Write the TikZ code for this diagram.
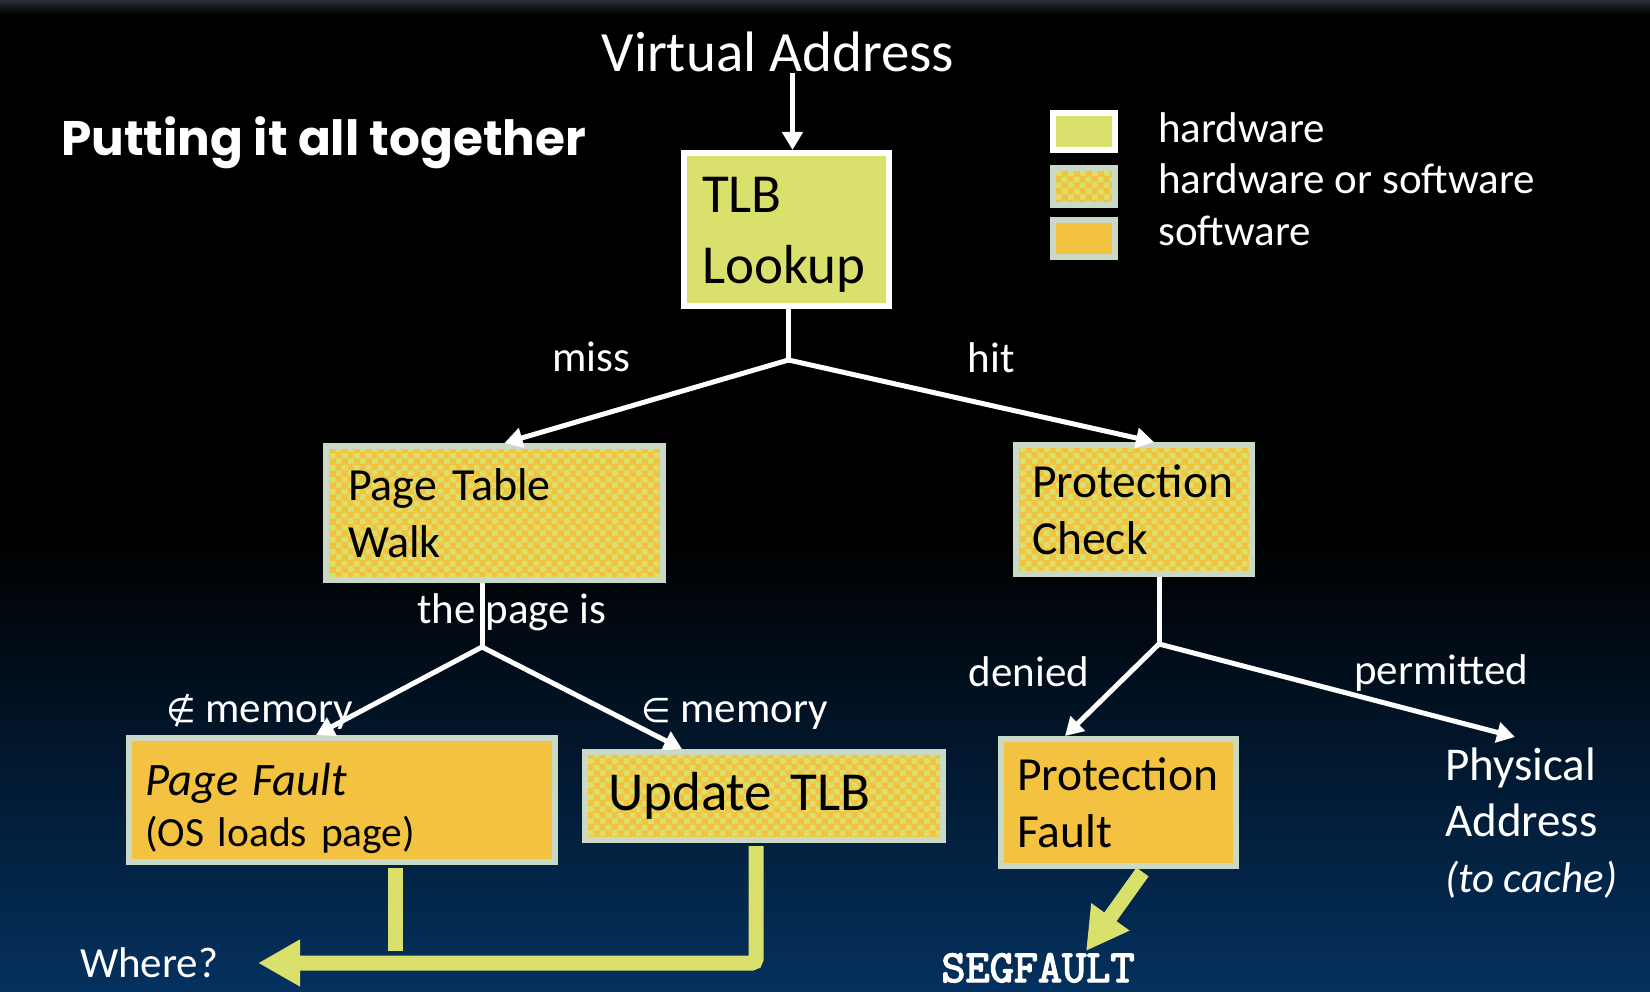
\documentclass[tikz,border=0pt]{standalone}
\usepackage{fontspec}
\setmainfont{Carlito}
\newfontfamily\titlefont{Poppins}
\newfontfamily\symfont{DejaVu Sans}
\newfontfamily\segfont{lmmono10-regular.otf}[FakeBold=3]
\usepackage{tikz}
\usetikzlibrary{positioning,arrows.meta,calc,patterns.meta}
\definecolor{vmyellow}{HTML}{D9E06B}
\definecolor{vmgold}{HTML}{F3C240}
\definecolor{vmsage}{HTML}{C9D9C5}
\definecolor{vmnavy}{HTML}{04315F}
\definecolor{vmedge}{HTML}{2A2F38}

% checker of the two fills: hardware or software
\tikzdeclarepattern{
  name=vmmix,
  type=colored,
  bottom left={(0pt,0pt)},
  top right={(12pt,12pt)},
  tile size={(12pt,12pt)},
  code={
    \fill[vmgold] (0pt,0pt) rectangle (12pt,12pt);
    \fill[vmyellow] (0pt,0pt) rectangle (6pt,6pt);
    \fill[vmyellow] (6pt,6pt) rectangle (12pt,12pt);
  }
}

\begin{document}
\begin{tikzpicture}[x=1pt,y=1pt,
    hwbox/.style={draw=white,line width=6pt,fill=vmyellow,align=left,text=black,inner ysep=0pt},
    mixbox/.style={draw=vmsage,line width=6pt,preaction={fill=vmgold},pattern=vmmix,align=left,text=black,inner ysep=0pt},
    swbox/.style={draw=vmsage,line width=6pt,fill=vmgold,align=left,text=black,inner ysep=0pt},
    keybox/.style={line width=6pt,minimum width=62pt,minimum height=37pt,inner sep=0pt},
    wline/.style={white,line width=5pt},
    warrow/.style={wline,-{Triangle[length=18pt,width=20pt]}},
    yline/.style={vmyellow,line width=15pt},
    yarrow/.style={yline,-{Triangle[length=42pt,width=44pt]}},
    lbl/.style={text=white,inner sep=0pt,font=\fontsize{43}{52}\selectfont}]
  \useasboundingbox (0,0) rectangle (1650,-992);
  % background
  \fill[black] (0,0) rectangle (1650,-992);
  \shade[top color=black,bottom color=vmnavy] (0,-540) rectangle (1650,-992);
  \shade[top color=vmedge,bottom color=black] (0,0) rectangle (1650,-14);

  \node[anchor=base west,text=white,inner sep=0pt,font=\titlefont\bfseries\fontsize{48.5}{58}\selectfont]
    (title) at (61,-156) {Putting it all together};
  \node[anchor=base,text=white,inner sep=0pt,font=\fontsize{57}{66}\selectfont]
    (va) at (778,-72) {Virtual Address};

  % boxes
  \node[hwbox,minimum width=205pt,minimum height=153pt,text width=169pt,inner xsep=18pt,
    font=\fontsize{55}{71}\selectfont] (tlb) at (786.5,-229.5) {\rule{0pt}{46pt}TLB\\Lookup};
  \node[mixbox,minimum width=337pt,minimum height=134pt,text width=293pt,inner xsep=22pt,
    font=\fontsize{46}{57}\selectfont] (ptw) at (494.5,-513) {Page Table\\Walk};
  \node[mixbox,minimum width=236pt,minimum height=129pt,text width=204pt,inner xsep=16pt,
    font=\fontsize{47.5}{57}\selectfont] (pchk) at (1134,-509.5) {Protection\\Check};
  \node[swbox,minimum width=426pt,minimum height=124pt,text width=394pt,inner xsep=16pt,
    font=\fontsize{41.5}{51}\selectfont] (pfault) at (342,-800)
    {\rule{0pt}{49pt}{\itshape\fontsize{46.5}{51}\selectfont Page Fault}\\(OS loads page)};
  \node[mixbox,minimum width=358pt,minimum height=88pt,text width=312pt,inner xsep=23pt,
    font=\fontsize{55}{66}\selectfont] (upd) at (764,-796) {Update TLB};
  \node[swbox,minimum width=235pt,minimum height=127pt,text width=203pt,inner xsep=16pt,
    font=\fontsize{47.5}{57}\selectfont] (pfail) at (1118.5,-802.5) {Protection\\Fault};

  % key
  \node[keybox,draw=white,fill=vmyellow] (hwkey) at (1084,-132) {};
  \node[keybox,draw=vmsage,preaction={fill=vmgold},pattern=vmmix] (mixkey) at (1084,-186.5) {};
  \node[keybox,draw=vmsage,fill=vmgold] (swkey) at (1084,-238.5) {};
  \node[lbl,anchor=base west] (hwtxt) at (1158,-143) {hardware};
  \node[lbl,anchor=base west] (mixtxt) at (1158,-194) {hardware or software};
  \node[lbl,anchor=base west] (swtxt) at (1158,-246) {software};

  % white connectors
  \coordinate (vin) at ($(tlb.north)+(6,0)$);
  \draw[warrow] (vin |- va.south) -- (vin);
  \coordinate (j1) at ($(tlb.south)+(2,-51)$);
  \draw[wline] (tlb.south -| j1) -- (j1);
  \draw[warrow] (j1) -- ($(ptw.north)+(10,0)$);
  \draw[warrow] (j1) -- ($(pchk.north)+(20,0)$);
  \node[lbl,anchor=base] (miss) at (591,-371) {miss};
  \node[lbl,anchor=base] (hit) at (991,-373) {hit};

  \coordinate (j2) at (482,-647);
  \draw[wline] (j2 |- ptw.south) -- (j2);
  \draw[warrow] (j2) -- ($(pfault.north)+(-26,0)$);
  \draw[warrow] (j2) -- ($(upd.north)+(-82,0)$);
  \node[lbl,anchor=base] (pageis) at (512,-623) {the page is};
  \node[lbl,anchor=base west] (notin) at (166,-722) {{\symfont\fontsize{34}{40}\selectfont ∉} memory};
  \node[lbl,anchor=base west] (isin) at (641,-722) {{\symfont\fontsize{34}{40}\selectfont ∈} memory};

  \coordinate (j3) at (1159,-644);
  \draw[wline] (j3 |- pchk.south) -- (j3);
  \draw[warrow] (j3) -- ($(pfail.north west)+(67,0)$);
  \coordinate (tocache) at (1515,-737);
  \draw[warrow] (j3) -- (tocache);
  \node[lbl,anchor=base] (denied) at (1029,-686) {denied};
  \node[lbl,anchor=base] (permit) at (1441,-684) {permitted};
  \node[anchor=north west,align=left,text=white,inner sep=0pt,font=\fontsize{47}{56}\selectfont]
    (phys) at (1445,-748) {Physical\\Address\\{\itshape\fontsize{43}{56}\selectfont (to cache)}};

  % yellow exits
  \node[lbl,anchor=base] (where) at (149,-977) {Where?};
  \coordinate (wtip) at (258,-963);
  \draw[yline] ($(pfault.south)+(53,-3)$) -- ++(0,-83);
  \draw[yarrow,rounded corners=4pt] ($(upd.south)+(-8,-3)$) |- (wtip);
  \node[anchor=base,text=white,inner sep=0pt,font=\segfont\fontsize{46}{54}\selectfont]
    (segv) at (1038,-982) {SEGFAULT};
  \coordinate (segtip) at (1086,-951);
  \draw[yarrow] ($(pfail.south)+(24,-3)$) -- (segtip);
\end{tikzpicture}
\end{document}
